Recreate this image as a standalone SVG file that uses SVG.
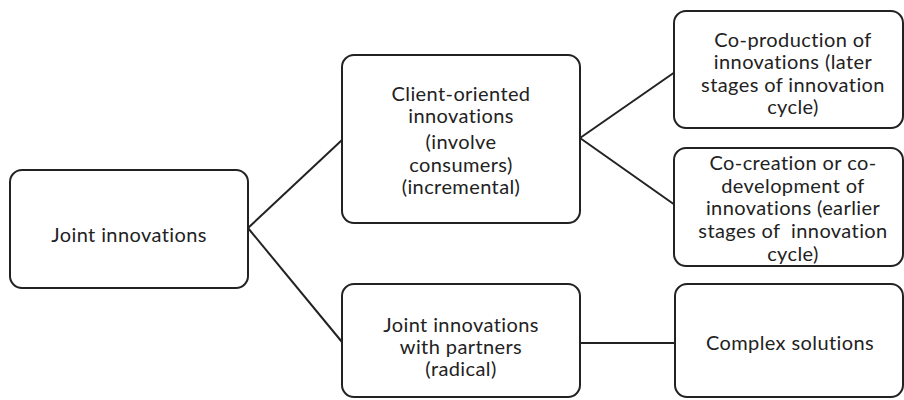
<svg xmlns="http://www.w3.org/2000/svg" width="904" height="400" viewBox="0 0 904 400">
<style>
.box{fill:#fff;stroke:#222;stroke-width:2}
.lbl{font-family:Lato,"Liberation Sans",sans-serif;font-size:20px;letter-spacing:0.4px;fill:#222;text-anchor:middle;white-space:pre;font-variant-ligatures:none;font-feature-settings:"liga" 0,"clig" 0}
.con{stroke:#222;stroke-width:2;fill:none}
</style>
<rect width="904" height="400" fill="#fff"/>
<g id="connectors">
<path class="con" d="M248,228 L342,140"/>
<path class="con" d="M248,228 L342,342"/>
<path class="con" d="M580,138 L675,72"/>
<path class="con" d="M580,138 L675,205"/>
<path class="con" d="M580,343 L675,343"/>
</g>
<g id="n1">
<rect class="box" x="10" y="170" width="238" height="118" rx="12"/>
<text class="lbl" x="129" y="242">Joint innovations</text>
</g>
<g id="n2">
<rect class="box" x="342" y="55" width="238" height="168" rx="12"/>
<text class="lbl" x="461" y="101">Client-oriented</text>
<text class="lbl" x="461" y="123">innovations</text>
<text class="lbl" x="461" y="149">(involve</text>
<text class="lbl" x="461" y="172">consumers)</text>
<text class="lbl" x="461" y="194">(incremental)</text>
</g>
<g id="n3">
<rect class="box" x="674" y="11" width="229" height="117" rx="12"/>
<text class="lbl" x="793" y="47">Co-production of</text>
<text class="lbl" x="793" y="69">innovations (later</text>
<text class="lbl" x="793" y="92">stages of innovation</text>
<text class="lbl" x="793" y="114">cycle)</text>
</g>
<g id="n4">
<rect class="box" x="674" y="148" width="229" height="118" rx="12"/>
<text class="lbl" x="793" y="170">Co-creation or co-</text>
<text class="lbl" x="793" y="193">development of</text>
<text class="lbl" x="793" y="215">innovations (earlier</text>
<text class="lbl" x="793" y="238" xml:space="preserve">stages of  innovation</text>
<text class="lbl" x="793" y="261">cycle)</text>
</g>
<g id="n5">
<rect class="box" x="342" y="284" width="238" height="113" rx="12"/>
<text class="lbl" x="461" y="332">Joint innovations</text>
<text class="lbl" x="461" y="354">with partners</text>
<text class="lbl" x="461" y="376">(radical)</text>
</g>
<g id="n6">
<rect class="box" x="675" y="284" width="228" height="113" rx="12"/>
<text class="lbl" x="790" y="350">Complex solutions</text>
</g>
</svg>
